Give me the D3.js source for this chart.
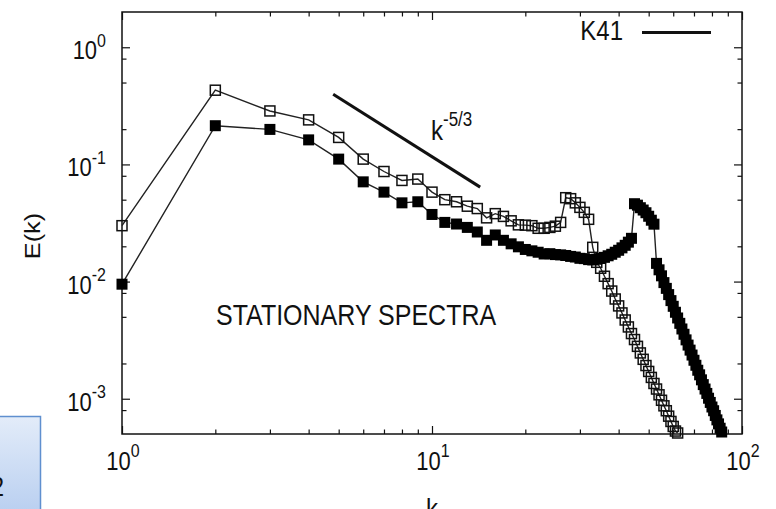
<!DOCTYPE html>
<html>
<head>
<meta charset="utf-8">
<script src="https://cdn.jsdelivr.net/npm/d3@7"></script>
<style>
  body { margin: 0; background: #fff; }
  svg { display: block; }
  text { font-family: "Liberation Sans", Arial, Helvetica, sans-serif; fill: #111; }
</style>
</head>
<body>
<div id="chart"></div>
<script>
// energy spectra E(k), k = 1, 2, 3, ... (index + 1)
const eOpen = [
  0.030, 0.43, 0.286, 0.24, 0.17, 0.111, 0.087, 0.073, 0.075, 0.058,
  0.050, 0.048, 0.044, 0.042, 0.035, 0.038, 0.036, 0.033, 0.0305, 0.0303,
  0.030, 0.0285, 0.0285, 0.029, 0.0297, 0.032, 0.052, 0.051, 0.047, 0.043,
  0.039, 0.034, 0.0196, 0.0146, 0.0130, 0.0111, 0.0096, 0.0083, 0.0071, 0.0062,
  0.0054, 0.0047, 0.0041, 0.0036, 0.0032, 0.0028, 0.00246, 0.00217, 0.00192, 0.00171,
  0.00152, 0.00135, 0.00121, 0.00108, 0.00097, 0.00087, 0.00079, 0.00071, 0.00064, 0.00058,
  0.00053, 0.00051
];
const eFilled = [
  0.0095, 0.214, 0.199, 0.162, 0.111, 0.071, 0.058, 0.047, 0.048, 0.0374,
  0.032, 0.031, 0.029, 0.0265, 0.0225, 0.025, 0.0225, 0.021, 0.0198, 0.0188,
  0.0183, 0.0178, 0.0172, 0.0173, 0.0170, 0.0169, 0.0167, 0.0164, 0.0162, 0.0158,
  0.0157, 0.0154, 0.0153, 0.0155, 0.0158, 0.0161, 0.0166, 0.0171, 0.0178, 0.0185,
  0.0194, 0.0204, 0.0217, 0.0234, 0.0462, 0.0449, 0.0427, 0.0408, 0.0387, 0.0361,
  0.0334, 0.0309, 0.0143, 0.0126, 0.0112, 0.0098, 0.00875, 0.00774, 0.00688, 0.00615,
  0.00547, 0.00489, 0.0044, 0.00394, 0.00355, 0.00318, 0.00287, 0.0026, 0.00236, 0.00213,
  0.00193, 0.00175, 0.0016, 0.00145, 0.00132, 0.00121, 0.00111, 0.00101, 0.00093, 0.00085,
  0.00079, 0.00072, 0.00066, 0.00061, 0.00056, 0.00052
];
// K41 reference slope segment (k^-5/3)
const k41K = [4.8, 14.3];
const k41E = [0.397, 0.064];

const xMajor = [1, 10, 100];
const xMajorExp = ["0", "1", "2"];
const xMinor = [2, 3, 4, 5, 6, 7, 8, 9, 20, 30, 40, 50, 60, 70, 80, 90];
const yMajor = [1, 0.1, 0.01, 0.001];
const yMajorExp = ["0", "-1", "-2", "-3"];
const yMinor = [0.8, 0.5, 0.2, 0.08, 0.05, 0.02, 0.008, 0.005, 0.002, 0.0008];

const width = 776, height = 509;
const margin = {top: 12, right: 34, bottom: 75, left: 122};
const stretch = 1.15;

const svg = d3.select("#chart").append("svg")
    .attr("width", width)
    .attr("height", height);

const x = d3.scaleLog().domain([1, 100]).range([margin.left, width - margin.right]);
const y = d3.scaleLog().domain([5e-4, 2]).range([height - margin.bottom, margin.top]);

// slide box peeking in at bottom-left
const grad = svg.append("defs").append("linearGradient")
    .attr("id", "boxgrad").attr("x1", 0).attr("y1", 0).attr("x2", 0).attr("y2", 1);
grad.append("stop").attr("offset", "0%").attr("stop-color", "#e3ecf9");
grad.append("stop").attr("offset", "100%").attr("stop-color", "#b3cbef");
svg.append("rect")
    .attr("x", -20).attr("y", 416.5).attr("width", 60.5).attr("height", 110)
    .attr("fill", "url(#boxgrad)").attr("stroke", "#5f8fcf").attr("stroke-width", 1.5);
svg.append("text")
    .attr("transform", `translate(4,496) scale(1,${stretch})`)
    .attr("text-anchor", "end")
    .style("font-size", "24px")
    .text("2");

// ticks on all four sides
function ticks(axis, tr, vals, len) {
  const g = svg.append("g")
      .attr("transform", tr)
      .call(axis.tickValues(vals).tickSizeInner(-len).tickSizeOuter(0).tickFormat(""));
  g.select(".domain").remove();
  g.selectAll(".tick line").attr("stroke", "#111").attr("stroke-width", 1.2);
}
const x0 = margin.left, x1 = width - margin.right;
const y0 = height - margin.bottom, y1 = margin.top;
ticks(d3.axisBottom(x), `translate(0,${y0})`, xMajor, 8);
ticks(d3.axisBottom(x), `translate(0,${y0})`, xMinor, 4.5);
ticks(d3.axisTop(x), `translate(0,${y1})`, xMajor, 8);
ticks(d3.axisTop(x), `translate(0,${y1})`, xMinor, 4.5);
ticks(d3.axisLeft(y), `translate(${x0},0)`, yMajor, 8);
ticks(d3.axisLeft(y), `translate(${x0},0)`, yMinor, 4.5);
ticks(d3.axisRight(y), `translate(${x1},0)`, yMajor, 8);
ticks(d3.axisRight(y), `translate(${x1},0)`, yMinor, 4.5);

svg.append("rect")
    .attr("x", x0).attr("y", y1)
    .attr("width", x1 - x0).attr("height", y0 - y1)
    .attr("fill", "none").attr("stroke", "#111").attr("stroke-width", 1.5);

// power-of-ten labels
function power(px, py, exp, anchor, size, supSize) {
  const t = svg.append("text")
      .attr("transform", `translate(${px},${py}) scale(1,${stretch})`)
      .attr("text-anchor", anchor)
      .style("font-size", size + "px");
  t.append("tspan").text("10");
  t.append("tspan").attr("dy", -size * 0.5).style("font-size", supSize + "px").text(exp);
}
xMajor.forEach((v, i) => power(x(v) + 1, 470, xMajorExp[i], "middle", 22, 16));
yMajor.forEach((v, i) => power(106, y(v) + 12, yMajorExp[i], "end", 22, 16));

// axis titles
svg.append("text")
    .attr("transform", `translate(40,236) rotate(-90) scale(${stretch},1)`)
    .attr("text-anchor", "middle")
    .style("font-size", "22px")
    .text("E(k)");
svg.append("text")
    .attr("transform", `translate(${x(10)},518) scale(1,${stretch})`)
    .attr("text-anchor", "middle")
    .style("font-size", "24px")
    .text("k");

// series
const openData = eOpen.map((e, i) => ({k: i + 1, e: e}));
const filledData = eFilled.map((e, i) => ({k: i + 1, e: e}));
const line = d3.line().x(d => x(d.k)).y(d => y(d.e));

svg.append("path").datum(openData)
    .attr("d", line).attr("fill", "none")
    .attr("stroke", "#222").attr("stroke-width", 1.4);
svg.append("path").datum(filledData)
    .attr("d", line).attr("fill", "none")
    .attr("stroke", "#222").attr("stroke-width", 1.4);

svg.append("g").selectAll("rect")
    .data(openData).enter().append("rect")
    .attr("x", d => x(d.k) - 5).attr("y", d => y(d.e) - 5)
    .attr("width", 10).attr("height", 10)
    .attr("fill", "none").attr("stroke", "#111").attr("stroke-width", 1.5);

svg.append("g").selectAll("rect")
    .data(filledData).enter().append("rect")
    .attr("x", d => x(d.k) - 5.5).attr("y", d => y(d.e) - 5.5)
    .attr("width", 11).attr("height", 11)
    .attr("fill", "#000");

// K41 slope
svg.append("line")
    .attr("x1", x(k41K[0])).attr("y1", y(k41E[0]))
    .attr("x2", x(k41K[1])).attr("y2", y(k41E[1]))
    .attr("stroke", "#111").attr("stroke-width", 3);

const kl = svg.append("text")
    .attr("transform", `translate(431,140) scale(1,${stretch})`)
    .style("font-size", "24px");
kl.append("tspan").text("k");
kl.append("tspan").attr("dy", -12).style("font-size", "17px").text("-5/3");

svg.append("text")
    .attr("transform", `translate(216,325) scale(1,${stretch})`)
    .style("font-size", "25px")
    .text("STATIONARY SPECTRA");

// legend
svg.append("text")
    .attr("transform", `translate(623,40) scale(1,${stretch})`)
    .attr("text-anchor", "end")
    .style("font-size", "24px")
    .text("K41");
svg.append("line")
    .attr("x1", 642).attr("x2", 711).attr("y1", 32.5).attr("y2", 32.5)
    .attr("stroke", "#111").attr("stroke-width", 3);
</script>
</body>
</html>
